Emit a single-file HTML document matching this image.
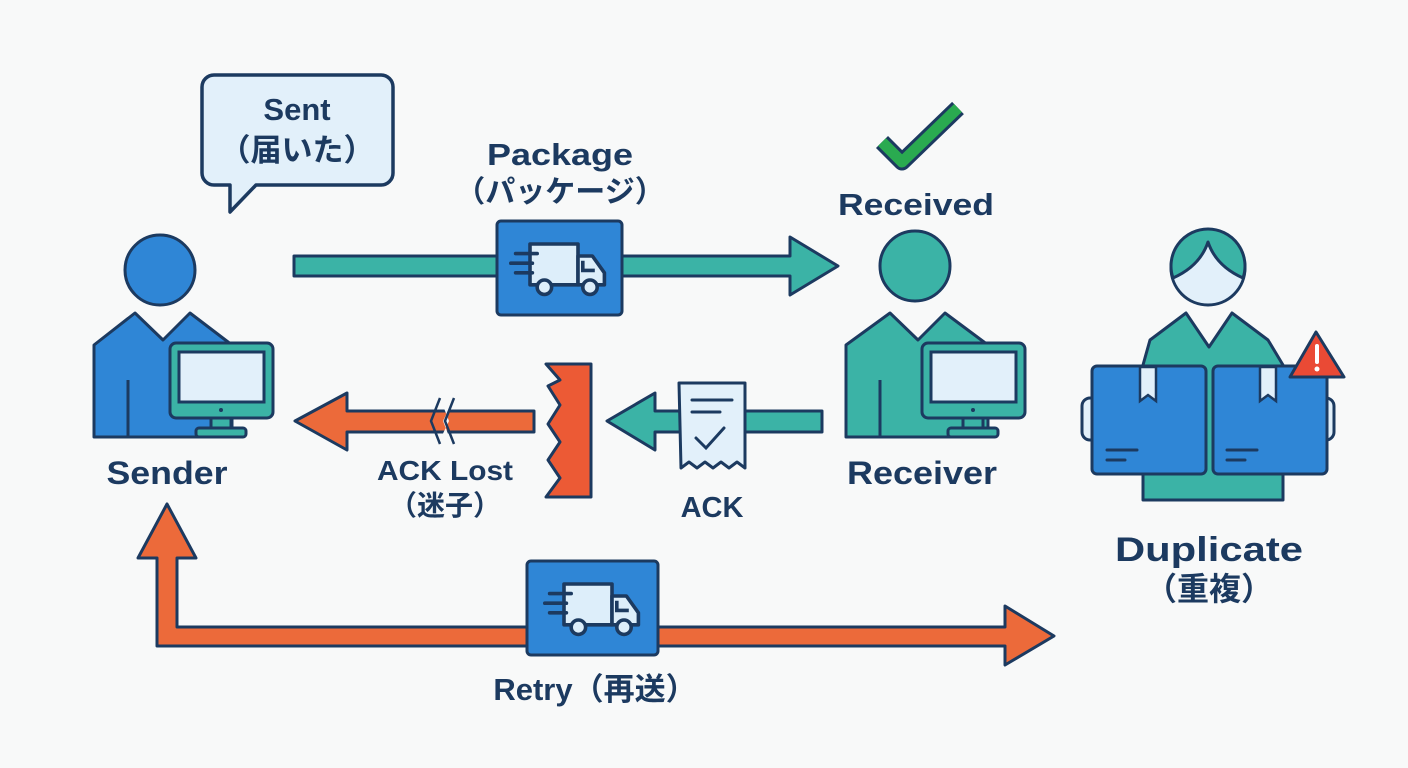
<!DOCTYPE html>
<html><head><meta charset="utf-8"><style>
html,body{margin:0;padding:0;background:#f8f9f9;}
svg{display:block}
text{font-family:"Liberation Sans","Noto Sans CJK JP",sans-serif;font-weight:bold;fill:#1c3a60;text-anchor:middle}
</style></head><body>
<svg width="1408" height="768" viewBox="0 0 1408 768" xmlns="http://www.w3.org/2000/svg">
<defs>
<g id="truck">
  <path d="M-30,-20 h40 v34 h-40 z" fill="#ddeefa" stroke="#1c3a60" stroke-width="3" stroke-linejoin="round"/>
  <path d="M10,-10 h12 l10,14 v10 h-22 z" fill="#ddeefa" stroke="#1c3a60" stroke-width="3" stroke-linejoin="round"/>
  <path d="M14,-6 v8 h10" fill="none" stroke="#1c3a60" stroke-width="3"/>
  <circle cx="-18" cy="16" r="6" fill="#ddeefa" stroke="#1c3a60" stroke-width="3"/>
  <circle cx="20" cy="16" r="6" fill="#ddeefa" stroke="#1c3a60" stroke-width="3"/>
  <path d="M-42,-12 h18 M-46,-4 h18 M-42,4 h14" stroke="#1c3a60" stroke-width="3" stroke-linecap="round"/>
</g>
<g id="monitor">
  <rect x="0" y="0" width="103" height="75" rx="6" fill="#3bb3a6" stroke="#1c3a60" stroke-width="3"/>
  <rect x="9" y="9" width="85" height="50" fill="#e2f0fa" stroke="#1c3a60" stroke-width="3"/>
  <circle cx="51" cy="67" r="2" fill="#1c3a60"/>
  <rect x="41" y="75" width="20" height="10" fill="#3bb3a6" stroke="#1c3a60" stroke-width="3"/>
  <rect x="26" y="85" width="50" height="9" rx="3" fill="#3bb3a6" stroke="#1c3a60" stroke-width="3"/>
</g>
</defs>

<!-- speech bubble -->
<path d="M214,75 h167 a12,12 0 0 1 12,12 v86 a12,12 0 0 1 -12,12 h-125 l-26,27 v-27 h-16 a12,12 0 0 1 -12,-12 v-86 a12,12 0 0 1 12,-12 z" fill="#e2f0fa" stroke="#1c3a60" stroke-width="3.5" stroke-linejoin="round"/>
<text x="297" y="120" font-size="31">Sent</text>
<text x="297" y="161" font-size="31">（届いた）</text>

<!-- Sender -->
<circle cx="160" cy="270" r="35" fill="#2f86d6" stroke="#1c3a60" stroke-width="3"/>
<path d="M94,345 L135,313 L163,340 L190,313 L232,345 L232,437 L94,437 Z" fill="#2f86d6" stroke="#1c3a60" stroke-width="3" stroke-linejoin="round"/>
<path d="M128,380 v57" stroke="#1c3a60" stroke-width="3"/>
<use href="#monitor" x="170" y="343"/>
<text x="167" y="484" font-size="32" textLength="121" lengthAdjust="spacingAndGlyphs">Sender</text>

<!-- top arrow -->
<path d="M294,256 H790 V237 L838,266 L790,295 V276 H294 Z" fill="#3bb3a6" stroke="#1c3a60" stroke-width="3" stroke-linejoin="round"/>
<rect x="497" y="221" width="125" height="94" rx="4" fill="#2f86d6" stroke="#1c3a60" stroke-width="3"/>
<use href="#truck" transform="translate(566,268) scale(1.2)"/>
<text x="560" y="165" font-size="31" textLength="146" lengthAdjust="spacingAndGlyphs">Package</text>
<text x="560" y="202" font-size="30">（パッケージ）</text>

<!-- check + received -->
<path d="M882,142 L902,162 L958,108" fill="none" stroke="#1c3a60" stroke-width="17" stroke-linejoin="round"/>
<path d="M882,142 L902,162 L958,108" fill="none" stroke="#2aaa50" stroke-width="11" stroke-linejoin="round"/>
<text x="916" y="215" font-size="31" textLength="156" lengthAdjust="spacingAndGlyphs">Received</text>

<!-- Receiver -->
<circle cx="915" cy="266" r="35" fill="#3bb3a6" stroke="#1c3a60" stroke-width="3"/>
<path d="M846,345 L890,313 L918,340 L945,313 L988,345 L988,437 L846,437 Z" fill="#3bb3a6" stroke="#1c3a60" stroke-width="3" stroke-linejoin="round"/>
<path d="M880,380 v57" stroke="#1c3a60" stroke-width="3"/>
<use href="#monitor" x="922" y="343"/>
<text x="922" y="484" font-size="32" textLength="150" lengthAdjust="spacingAndGlyphs">Receiver</text>

<!-- ACK arrow -->
<path d="M822,411 H655 V393 L607,421 L655,450 V432 H822 Z" fill="#3bb3a6" stroke="#1c3a60" stroke-width="3" stroke-linejoin="round"/>
<path d="M679,383 h66 v85 l-8,-6 l-8,6 l-8,-6 l-8,6 l-8,-6 l-8,6 l-8,-6 l-8,6 z" fill="#e2f0fa" stroke="#1c3a60" stroke-width="3" stroke-linejoin="round"/>
<path d="M692,400 h40 M692,412 h28" stroke="#1c3a60" stroke-width="3" stroke-linecap="round"/>
<path d="M696,438 l10,10 l18,-20" fill="none" stroke="#1c3a60" stroke-width="3" stroke-linecap="round"/>
<text x="712" y="517" font-size="29">ACK</text>

<!-- red wall -->
<path d="M546,364 H591 V497 H546 L560,478 L548,460 L560,442 L548,424 L560,405 L548,386 L560,380 Z" fill="#ec5a35" stroke="#1c3a60" stroke-width="3" stroke-linejoin="round"/>

<!-- ACK lost arrow -->
<path d="M534,411 H347 V393 L295,421 L347,450 V432 H534 Z" fill="#ec6a3a" stroke="#1c3a60" stroke-width="3" stroke-linejoin="round"/>
<path d="M440,398 L454,398 L443,421 L452,444 L438,444 L449,421 Z" fill="#f8f9f9"/>
<path d="M440,398 L431,421 L440,444 M454,398 L445,421 L454,444" fill="none" stroke="#1c3a60" stroke-width="2.5"/>
<text x="445" y="480" font-size="28" textLength="136" lengthAdjust="spacingAndGlyphs">ACK Lost</text>
<text x="445" y="515" font-size="28">（迷子）</text>

<!-- Retry arrow -->
<path d="M157,646 V558 H138 L167,504 L196,558 H177 V627 H1005 V606 L1054,636 L1005,665 V646 Z" fill="#ec6a3a" stroke="#1c3a60" stroke-width="3" stroke-linejoin="round"/>
<rect x="527" y="561" width="131" height="94" rx="4" fill="#2f86d6" stroke="#1c3a60" stroke-width="3"/>
<use href="#truck" transform="translate(600,608) scale(1.2)"/>
<text x="595" y="700" font-size="31">Retry（再送）</text>

<!-- Duplicate -->
<circle cx="1208" cy="268" r="37" fill="#e2f0fa" stroke="#1c3a60" stroke-width="3"/>
<path d="M1173,278 A37,37 0 1 1 1243,278 Q1216,266 1208,242 Q1200,266 1173,278 Z" fill="#3bb3a6" stroke="#1c3a60" stroke-width="3" stroke-linejoin="round"/>
<path d="M1143,365 L1150,340 L1186,313 L1209,347 L1232,313 L1268,340 L1283,365 L1283,500 L1143,500 Z" fill="#3bb3a6" stroke="#1c3a60" stroke-width="3" stroke-linejoin="round"/>
<rect x="1082" y="398" width="22" height="42" rx="8" fill="#e2f0fa" stroke="#1c3a60" stroke-width="3"/>
<rect x="1312" y="398" width="22" height="42" rx="8" fill="#e2f0fa" stroke="#1c3a60" stroke-width="3"/>
<rect x="1092" y="366" width="114" height="108" rx="5" fill="#2f86d6" stroke="#1c3a60" stroke-width="3"/>
<rect x="1213" y="366" width="114" height="108" rx="5" fill="#2f86d6" stroke="#1c3a60" stroke-width="3"/>
<path d="M1140,367 v34 l8,-6 l8,6 v-34 z" fill="#e2f0fa" stroke="#1c3a60" stroke-width="2.5"/>
<path d="M1260,367 v34 l8,-6 l8,6 v-34 z" fill="#e2f0fa" stroke="#1c3a60" stroke-width="2.5"/>
<path d="M1107,450 h30 M1107,460 h18 M1227,450 h30 M1227,460 h18" stroke="#1c3a60" stroke-width="3" stroke-linecap="round"/>
<path d="M1316,332 L1344,377 L1290,377 Z" fill="#ea4a35" stroke="#1c3a60" stroke-width="3" stroke-linejoin="round"/>
<path d="M1317,346 v16" stroke="#fff" stroke-width="4" stroke-linecap="round"/>
<circle cx="1317" cy="369" r="2.5" fill="#fff"/>
<text x="1209" y="561" font-size="34" textLength="188" lengthAdjust="spacingAndGlyphs">Duplicate</text>
<text x="1209" y="600" font-size="32">（重複）</text>
</svg>
</body></html>
